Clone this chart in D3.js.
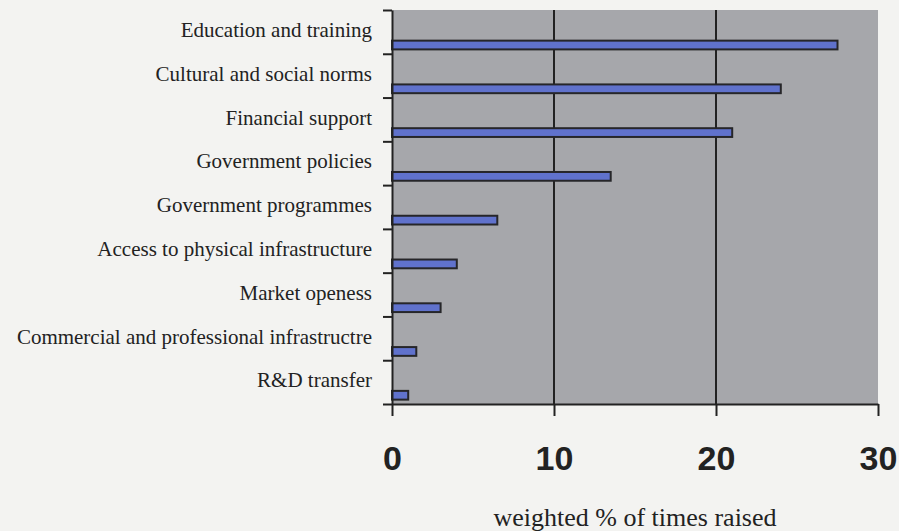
<!DOCTYPE html>
<html>
<head>
<meta charset="utf-8">
<script src="https://cdn.jsdelivr.net/npm/d3@7"></script>
<style>
  html, body { margin: 0; padding: 0; background: #f3f3f1; }
  svg { display: block; }
  .serif { font-family: "Times New Roman", "Liberation Serif", "DejaVu Serif", serif; }
</style>
</head>
<body>
<div class="svg-wrap"></div>
<script>
let categories = [
  "Education and training",
  "Cultural and social norms",
  "Financial support",
  "Government policies",
  "Government programmes",
  "Access to physical infrastructure",
  "Market openess",
  "Commercial and professional infrastructre",
  "R&D transfer"
];
let values = [27.5, 24.0, 21.0, 13.5, 6.5, 4.0, 3.0, 1.5, 1.0];
let xTicks = [0, 10, 20, 30];
let xTitle = "weighted % of times raised";

var margin = {
    top: 10,
    right: 21,
    bottom: 127,
    left: 392
  },
  width = 899 - margin.left - margin.right,
  height = 531 - margin.top - margin.bottom;

let svg = d3.select(".svg-wrap")
  .append("svg")
  .attr("width", 899)
  .attr("height", 531)
  .style("background-color", "#f3f3f1");

let g = svg.append("g")
  .attr("transform", "translate(" + margin.left + "," + margin.top + ")");

let scaleX = d3.scaleLinear().domain([0, 30]).range([0, width]);
let scaleY = d3.scaleBand().domain(categories).range([0, height]).paddingInner(0).paddingOuter(0);

// plot area
g.append("rect")
  .attr("width", width)
  .attr("height", height)
  .style("fill", "#a6a7ab");

// vertical gridlines
g.selectAll(".grid")
  .data(xTicks.filter(d => d > 0 && d < 30))
  .enter()
  .append("line")
  .attr("class", "grid")
  .attr("x1", d => scaleX(d))
  .attr("x2", d => scaleX(d))
  .attr("y1", 0)
  .attr("y2", height)
  .style("stroke", "#222")
  .style("stroke-width", 2);

// bars
g.selectAll(".bar")
  .data(values)
  .enter()
  .append("rect")
  .attr("class", "bar")
  .attr("x", 0)
  .attr("y", (d, i) => scaleY(categories[i]) + scaleY.bandwidth() * 0.7)
  .attr("width", d => scaleX(d))
  .attr("height", scaleY.bandwidth() * 0.2)
  .style("fill", "#6072cc")
  .style("stroke", "#262629")
  .style("stroke-width", 2);

// y axis: ticks at category boundaries
let boundary = d3.scaleLinear().domain([0, categories.length]).range([0, height]);
let yAxis = g.append("g")
  .attr("id", "y-axis")
  .call(d3.axisLeft(boundary).ticks(categories.length).tickSize(9).tickSizeOuter(0).tickFormat(""));
yAxis.selectAll("line").style("stroke", "#222").style("stroke-width", 2);
yAxis.select(".domain").style("stroke", "#222").style("stroke-width", 2);

g.selectAll(".cat-label")
  .data(categories)
  .enter()
  .append("text")
  .attr("class", "cat-label serif")
  .attr("x", -20)
  .attr("y", d => scaleY(d) + scaleY.bandwidth() / 2)
  .attr("dy", "0.25em")
  .style("text-anchor", "end")
  .style("font-size", "21px")
  .style("fill", "#222")
  .text(d => d);

// x axis
let xAxis = g.append("g")
  .attr("id", "x-axis")
  .attr("transform", `translate(0,${height})`)
  .call(d3.axisBottom(scaleX).tickValues(xTicks).tickSize(12).tickSizeOuter(0).tickFormat(d3.format("d")));
xAxis.selectAll("line").style("stroke", "#222").style("stroke-width", 2);
xAxis.select(".domain").style("stroke", "#222").style("stroke-width", 2);
xAxis.selectAll("text")
  .attr("y", 66)
  .attr("dy", 0)
  .attr("font-family", null)
  .style("font-family", "Arial, 'Liberation Sans', sans-serif")
  .style("font-weight", "bold")
  .style("font-size", "34px")
  .style("fill", "#222");

g.append("text")
  .attr("class", "serif")
  .attr("x", width / 2)
  .attr("y", height + 122)
  .style("text-anchor", "middle")
  .style("font-size", "26px")
  .style("fill", "#222")
  .text(xTitle);
</script>
</body>
</html>
